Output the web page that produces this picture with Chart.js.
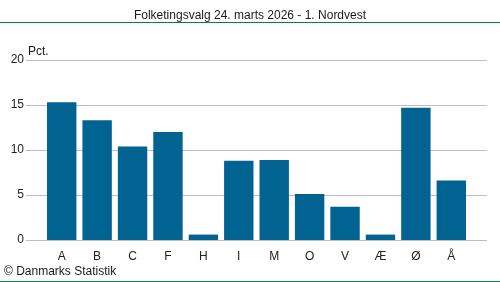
<!DOCTYPE html>
<html>
<head>
<meta charset="utf-8">
<script src="https://cdn.jsdelivr.net/npm/chart.js@4/dist/chart.umd.min.js"></script>
<style>
  html, body { margin: 0; padding: 0; background: #fff; }
  #wrap { width: 500px; height: 282px; }
</style>
</head>
<body>
<div id="wrap"><canvas id="valg" width="500" height="282"></canvas></div>
<script>
const partier = ['A', 'B', 'C', 'F', 'H', 'I', 'M', 'O', 'V', 'Æ', 'Ø', 'Å'];
const pct = [15.3, 13.3, 10.4, 12.0, 0.6, 8.8, 8.9, 5.1, 3.7, 0.6, 14.7, 6.6];
const yTicks = [0, 5, 10, 15, 20];
const titel = 'Folketingsvalg 24. marts 2026 - 1. Nordvest';

const FONT = '"Liberation Sans", Arial, sans-serif';
const GREEN = '#00843f';

// draws title, frame lines, extended gridlines and footer text
const pynt = {
    id: 'pynt',
    beforeDatasetsDraw(chart) {
        const ctx = chart.ctx;
        const y = chart.scales.y;
        ctx.save();
        ctx.strokeStyle = '#bdbcc4';
        ctx.lineWidth = 1;
        yTicks.forEach(v => {
            const py = Math.round(y.getPixelForValue(v)) + 0.5;
            ctx.beginPath();
            ctx.moveTo(26, py);
            ctx.lineTo(487, py);
            ctx.stroke();
        });
        ctx.restore();
    },
    afterDraw(chart) {
        const ctx = chart.ctx;
        ctx.save();
        ctx.fillStyle = '#1a1a1a';
        ctx.font = '12px ' + FONT;
        ctx.textAlign = 'center';
        ctx.textBaseline = 'alphabetic';
        ctx.fillText(titel, 250, 19);
        ctx.textAlign = 'left';
        ctx.fillText('Pct.', 28, 55);
        ctx.fillText('© Danmarks Statistik', 4, 275);
        ctx.strokeStyle = GREEN;
        ctx.lineWidth = 1;
        ctx.beginPath();
        ctx.moveTo(0, 22.5); ctx.lineTo(500, 22.5);
        ctx.moveTo(0, 281.5); ctx.lineTo(500, 281.5);
        ctx.stroke();
        ctx.restore();
    }
};

new Chart(document.getElementById('valg').getContext('2d'), {
    type: 'bar',
    data: {
        labels: partier,
        datasets: [{
            data: pct,
            backgroundColor: '#006391',
            barPercentage: 0.83,
            categoryPercentage: 1.0
        }]
    },
    options: {
        responsive: false,
        animation: false,
        layout: { padding: { left: 0, right: 31, top: 60, bottom: 0 } },
        plugins: { legend: { display: false }, tooltip: { enabled: false } },
        scales: {
            x: {
                grid: { display: false, drawTicks: false },
                border: { display: false },
                ticks: { color: '#222', font: { family: FONT, size: 12 }, padding: 9, maxRotation: 0 },
                afterFit(scale) { scale.height = 42; }
            },
            y: {
                min: 0,
                max: 20,
                afterBuildTicks(scale) { scale.ticks = yTicks.map(v => ({ value: v })); },
                grid: { display: false, drawTicks: false },
                border: { display: false },
                ticks: { color: '#222', font: { family: FONT, size: 12 }, padding: 20 },
                afterFit(scale) { scale.width = 44; }
            }
        }
    },
    plugins: [pynt]
});
</script>
</body>
</html>
